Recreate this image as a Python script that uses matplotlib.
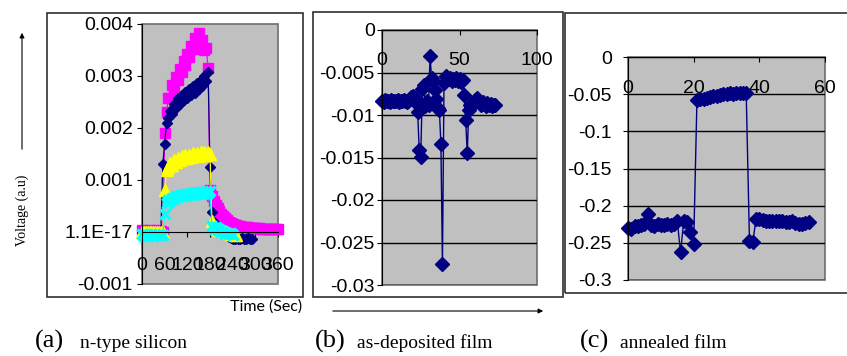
import matplotlib.pyplot as plt
import matplotlib.patches as patches
import numpy as np

plt.rcParams['font.family'] = ['Liberation Sans', 'DejaVu Sans']

W, H = 847, 356

# ---------- panel (a): n-type silicon, time in s, voltage in units of 1e-4 ----------
t_a = list(range(0, 361, 5))
navy_a = [0, 0, 0, 0, 0, 0, 0, 0, 0, 0, 0,
          13, 17, 21, 22, 23.3, 22.7, 24.7, 23.8, 25.7, 24.6,
          26.4, 25.3, 27.0, 25.8, 27.5, 26.3, 28.0, 26.8, 28.6, 27.5,
          29.3, 28.1, 30.0, 29.1, 30.8, 12.5, 3.8, 2.0, 1.2, 0.8,
          0.5, 0.3, 0.1, 0.0, -0.5, -1.0, -1.2, -1.3, -1.3, -1.2,
          -1.3, -1.3, -1.2, -1.3, -1.3, -1.2, -1.3, -1.3]
magenta_a = [0.3, -0.3, 0.2, -0.2, 0.3, -0.3, 0.2, -0.2, 0.3, -0.3, 0.2, 0.0,
             19, 23, 25.8, 25.7, 28.3, 27.7, 29.8, 29.2, 31.3, 30.7,
             32.8, 32.2, 34.3, 33.7, 35.8, 35.2, 37.3, 36.2, 38.3, 36.5,
             37.0, 35.0, 35.3, 31.5, 8, 7, 6, 5.2, 4.6, 4.0,
             3.5, 3.0, 2.6, 2.3, 2.0, 1.8, 1.6, 1.4, 1.3, 1.2,
             1.1, 1.0, 1.0, 0.9, 0.9, 0.8, 0.8, 0.8, 0.7, 0.7,
             0.7, 0.6, 0.6, 0.6, 0.6, 0.5, 0.5, 0.5, 0.5, 0.5, 0.5]
yellow_a = [0, 0, 0, 0, 0, 0, 0, 0, 0, 0, 0, 0,
            8, 12, 12.5, 13.3, 12.8, 13.8, 13.4, 14.2, 13.8, 14.6,
            14.2, 14.8, 14.3, 14.9, 14.5, 15.1, 14.6, 15.2, 14.7, 15.3,
            14.8, 15.3, 14.9, 15.4, 15.0, 2.2, 1.2, 0.8, 0.5, 0.4,
            0.3, 0.2, 0.1, 0.0, -0.2, -0.3, -0.4, -0.5, -0.6]
cyan_a = [-0.4, -0.8, -0.3, -0.7, -0.5, -0.3, -0.8, -0.4, -0.6, -0.3, -0.7, -0.5,
          3.5, 5.5, 6.2, 6.0, 6.6, 6.4, 7.0, 6.7, 7.2, 6.9,
          7.3, 7.0, 7.4, 7.1, 7.5, 7.2, 7.6, 7.3, 7.6, 7.4,
          7.7, 7.4, 7.8, 7.5, 7.8, 1.2, 0.6, 0.9, 0.3, 0.5,
          0.0, 0.2, -0.3, -0.1, -0.4, -0.2, -0.5]
yticks_a = [-0.001, 0, 0.001, 0.002, 0.003, 0.004]
ylabels_a = ['-0.001', '1.1E-17', '0.001', '0.002', '0.003', '0.004']
xticks_a = [0, 60, 120, 180, 240, 300, 360]

# ---------- panel (b): as-deposited film ----------
vals_b = [-0.0083, -0.0085, -0.0082, -0.0084, -0.0083, -0.0085, -0.0082, -0.0084, -0.0083, -0.0084,
          -0.0082, -0.0085, -0.0083, -0.0084, -0.0082, -0.0083, -0.0085, -0.0084, -0.0081, -0.0079,
          -0.0078, -0.0080, -0.0086, -0.0096, -0.0141, -0.0149, -0.0069, -0.0065, -0.0089, -0.0084,
          -0.0088, -0.0031, -0.0057, -0.0060, -0.0070, -0.0081, -0.0092, -0.0094, -0.0134, -0.0275,
          -0.0062, -0.0054, -0.0056, -0.0058, -0.0057, -0.0060, -0.0058, -0.0059, -0.0057, -0.0060,
          -0.0058, -0.0061, -0.0059, -0.0077, -0.0106, -0.0145, -0.0094, -0.0088, -0.0086, -0.0087,
          -0.0082, -0.0080, -0.0084, -0.0086, -0.0088, -0.0085, -0.0087, -0.0089, -0.0086, -0.0088,
          -0.0087, -0.0089, -0.0088, -0.0088]
yticks_b = [-0.03, -0.025, -0.02, -0.015, -0.01, -0.005, 0]
ylabels_b = ['-0.03', '-0.025', '-0.02', '-0.015', '-0.01', '-0.005', '0']
xticks_b = [0, 50, 100]

# ---------- panel (c): annealed film ----------
vals_c = [-0.230, -0.232, -0.228, -0.227, -0.226, -0.225, -0.211, -0.226, -0.227, -0.225,
          -0.226, -0.226, -0.225, -0.226, -0.225, -0.220, -0.263, -0.220, -0.222, -0.236,
          -0.252, -0.058, -0.057, -0.056, -0.055, -0.054, -0.053, -0.052, -0.051, -0.050,
          -0.050, -0.049, -0.050, -0.049, -0.049, -0.048, -0.048, -0.248, -0.249, -0.218,
          -0.218, -0.219, -0.220, -0.220, -0.221, -0.221, -0.220, -0.221, -0.222, -0.222,
          -0.221, -0.223, -0.224, -0.224, -0.223, -0.222]
yticks_c = [-0.3, -0.25, -0.2, -0.15, -0.1, -0.05, 0]
ylabels_c = ['-0.3', '-0.25', '-0.2', '-0.15', '-0.1', '-0.05', '0']
xticks_c = [0, 20, 40, 60]


def rect(x0, y0, x1, y1):
    return [x0 / W, 1 - y1 / H, (x1 - x0) / W, (y1 - y0) / H]


def frame(fig, x0, y0, x1, y1):
    fig.add_artist(patches.Rectangle((x0 / W, 1 - y1 / H), (x1 - x0) / W, (y1 - y0) / H,
                                     transform=fig.transFigure, fill=False,
                                     ec='#303030', lw=1.2))


def style(ax, xlim, ylim, xticks, yticks, ylabels, xpad, ypad, grid):
    ax.set_facecolor('#c0c0c0')
    ax.set_xlim(xlim)
    ax.set_ylim(ylim)
    ax.spines['top'].set_visible(False)
    ax.spines['right'].set_visible(False)
    ax.spines['bottom'].set_position(('data', 0))
    ax.spines['bottom'].set_color('black')
    ax.spines['left'].set_color('black')
    ax.add_patch(patches.Rectangle((0, 0), 1, 1, transform=ax.transAxes, fill=False,
                                   ec='#6e6e6e', lw=1.2, clip_on=False, zorder=0.5))
    ax.set_xticks(xticks)
    ax.set_xticklabels([str(v) for v in xticks])
    ax.set_yticks(yticks)
    ax.set_yticklabels(ylabels)
    ax.tick_params(axis='x', direction='out', length=3.6, width=0.8, pad=xpad, labelsize=14)
    ax.tick_params(axis='y', direction='out', length=3.6, width=0.8, pad=ypad, labelsize=14)
    if grid:
        ax.yaxis.grid(True, color='black', lw=1.0)
        ax.set_axisbelow(True)


fig = plt.figure(figsize=(W / 100, H / 100), dpi=100)

frame(fig, 47, 13, 303, 297)
frame(fig, 313, 12, 563, 297)
frame(fig, 565, 13, 860, 293)

# (a)
ax1 = fig.add_axes(rect(142, 24, 278, 284))
style(ax1, (0, 360), (-0.001, 0.004), xticks_a, yticks_a, ylabels_a, 14.5, 3.0, False)
sc = 1e-4
ax1.plot(t_a[:len(magenta_a)], np.array(magenta_a) * sc, color='#ff00ff', marker='s', ms=7.5,
         lw=0.9, clip_on=False)
ax1.plot(t_a[:len(navy_a)], np.array(navy_a) * sc, color='#000080', marker='D', ms=5.5,
         lw=0.9, clip_on=False)
ax1.plot(t_a[:len(yellow_a)], np.array(yellow_a) * sc, color='#ffff00', marker='^', ms=8,
         lw=0.9, clip_on=False)
ax1.plot(t_a[:len(cyan_a)], np.array(cyan_a) * sc, color='#00ffff', marker='x', ms=7, mew=2.5,
         lw=0.9, clip_on=False)

# (b)
ax2 = fig.add_axes(rect(382, 30, 537, 285))
style(ax2, (0, 100), (-0.03, 0), xticks_b, yticks_b, ylabels_b, 12, 1.5, True)
ax2.plot(range(len(vals_b)), vals_b, color='#000080', marker='D', ms=7, lw=1.0, clip_on=False)

# (c)
ax3 = fig.add_axes(rect(628, 57, 825, 280))
style(ax3, (0, 60), (-0.3, 0), xticks_c, yticks_c, ylabels_c, 13, 8, True)
ax3.plot(range(len(vals_c)), vals_c, color='#000080', marker='D', ms=7, lw=1.0, clip_on=False)

# axis captions and arrows
fig.text(22 / W, 1 - 210 / H, 'Voltage (a.u)', rotation=90, ha='center', va='center',
         fontsize=10, family='Liberation Serif')
fig.add_artist(patches.FancyArrowPatch((22 / W, 1 - 152 / H), (22 / W, 1 - 30 / H),
                                       transform=fig.transFigure, arrowstyle='-|>',
                                       mutation_scale=7, lw=0.8, color='black'))
fig.text(266 / W, 1 - 307 / H, 'Time (Sec)', ha='center', va='center', fontsize=11.5,
         family='Lato')
fig.add_artist(patches.FancyArrowPatch((330 / W, 1 - 311 / H), (546 / W, 1 - 311 / H),
                                       transform=fig.transFigure, arrowstyle='-|>',
                                       mutation_scale=7, lw=0.8, color='black'))

captions = [(35, '(a)', 80, 'n-type silicon'),
            (315, '(b)', 357, 'as-deposited film'),
            (580, '(c)', 620, 'annealed film')]
for xa, tag, xb, name in captions:
    fig.text(xa / W, 1 - 341 / H, tag, ha='left', va='center', fontsize=19,
             family='Liberation Serif')
    fig.text(xb / W, 1 - 343 / H, name, ha='left', va='center', fontsize=14,
             family='Liberation Serif')

fig.savefig('out.png', dpi=100)
